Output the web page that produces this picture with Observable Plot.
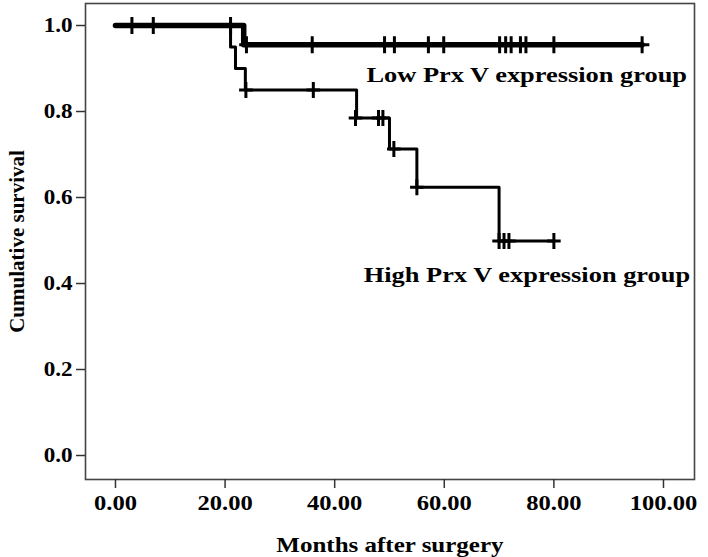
<!DOCTYPE html>
<html>
<head>
<meta charset="utf-8">
<script src="https://cdn.jsdelivr.net/npm/d3@7"></script>
<script src="https://cdn.jsdelivr.net/npm/@observablehq/plot@0.6"></script>
<style>
  html, body { margin: 0; padding: 0; background: #fff; }
</style>
</head>
<body>
<div id="chart"></div>
<script>
// Low Prx V expression group: step curve (months, cumulative survival)
const lowTimes = [0, 23.4, 96.1];
const lowSurv  = [1.0, 0.955, 0.955];
// Low group censored observations
const lowCensorTimes = [3.0, 6.9, 21.0, 23.9, 35.9, 49.1, 50.9, 57.1, 59.9, 70.1, 71.2, 72.2, 73.9, 74.9, 80.0, 96.1];
const lowCensorSurv  = [1.0, 1.0, 1.0, 0.955, 0.955, 0.955, 0.955, 0.955, 0.955, 0.955, 0.955, 0.955, 0.955, 0.955, 0.955, 0.955];

// High Prx V expression group: step curve
const highTimes = [0, 21.0, 21.9, 23.7, 44.0, 50.0, 55.0, 70.0, 80.0];
const highSurv  = [1.0, 0.95, 0.90, 0.85, 0.785, 0.713, 0.624, 0.499, 0.499];
// High group censored observations
const highCensorTimes = [23.8, 36.1, 43.8, 48.0, 48.8, 50.8, 55.0, 70.0, 70.9, 71.8, 80.0];
const highCensorSurv  = [0.85, 0.85, 0.785, 0.785, 0.785, 0.713, 0.624, 0.499, 0.499, 0.499, 0.499];

// Axis ticks
const xTicks = [0, 20, 40, 60, 80, 100];
const yTicks = [0, 0.2, 0.4, 0.6, 0.8, 1.0];

// Group labels
const groupLabels = ["Low Prx V expression group", "High Prx V expression group"];
const groupLabelX = [45.8, 45.3];
const groupLabelY = [0.884, 0.419];

const lowLine = lowTimes.map((t, i) => ({t, s: lowSurv[i]}));
const highLine = highTimes.map((t, i) => ({t, s: highSurv[i]}));
const lowCens = lowCensorTimes.map((t, i) => ({t, s: lowCensorSurv[i]}));
const highCens = highCensorTimes.map((t, i) => ({t, s: highCensorSurv[i]}));
const labels = groupLabels.map((text, i) => ({text, t: groupLabelX[i], s: groupLabelY[i]}));

// custom "+" censor symbol: vertical arm = r, horizontal arm slightly shorter
const censorPlus = {
  draw(context, size) {
    const r = Math.sqrt(size / Math.PI);
    const h = r * 0.85;
    context.moveTo(-h, 0);
    context.lineTo(h, 0);
    context.moveTo(0, -r);
    context.lineTo(0, r);
  }
};

const font = "'Liberation Serif', 'Times New Roman', serif";

const chart = Plot.plot({
  width: 708,
  height: 557,
  marginLeft: 85,
  marginRight: 14,
  marginTop: 3,
  marginBottom: 78,
  style: {fontFamily: font, fontWeight: "bold", color: "#000", background: "#fff"},
  x: {domain: [-5.47, 105.66]},
  y: {domain: [-0.0558, 1.0512]},
  marks: [
    Plot.frame({stroke: "#444", strokeWidth: 1.6}),
    Plot.axisX({
      ticks: xTicks, tickFormat: d3.format(".2f"), tickSize: 9, tickPadding: 7,
      fontSize: 21, stroke: "#333", strokeWidth: 1.5,
      label: "Months after surgery", labelAnchor: "center", labelArrow: "none", labelOffset: 72
    }),
    Plot.axisY({
      ticks: yTicks, tickFormat: d3.format(".1f"), tickSize: 9, tickPadding: 4,
      fontSize: 21, stroke: "#333", strokeWidth: 1.5,
      label: "Cumulative survival", labelAnchor: "center", labelArrow: "none", labelOffset: 76
    }),
    Plot.line(highLine, {x: "t", y: "s", curve: "step-after", stroke: "#000", strokeWidth: 3}),
    Plot.line(lowLine, {x: "t", y: "s", curve: "step-after", stroke: "#000", strokeWidth: 5.5}),
    Plot.dot(highCens, {x: "t", y: "s", symbol: censorPlus, r: 8, fill: "none", stroke: "#000", strokeWidth: 3}),
    Plot.dot(lowCens, {x: "t", y: "s", symbol: censorPlus, r: 8.5, fill: "none", stroke: "#000", strokeWidth: 3}),
    Plot.text(labels, {x: "t", y: "s", text: "text", textAnchor: "start", lineAnchor: "middle",
      fontSize: 22, fontWeight: "bold", fill: "#000", fontFamily: font})
  ]
});
document.getElementById("chart").appendChild(chart);

// the reference typesetting is horizontally wide: stretch texts about their anchor
function stretch(groupLabel, s) {
  chart.querySelectorAll(`g[aria-label="${groupLabel}"] text`).forEach(el => {
    const b = el.getBBox();
    const anchor = getComputedStyle(el).textAnchor;
    const ax = anchor === "middle" ? b.x + b.width / 2 : anchor === "end" ? b.x + b.width : b.x;
    const prev = el.getAttribute("transform") || "";
    el.setAttribute("transform", `${prev} translate(${ax},0) scale(${s},1) translate(${-ax},0)`);
  });
}
stretch("x-axis tick label", 1.17);
stretch("y-axis tick label", 1.1);
stretch("x-axis label", 1.19);
stretch("text", 1.2);
</script>
</body>
</html>
